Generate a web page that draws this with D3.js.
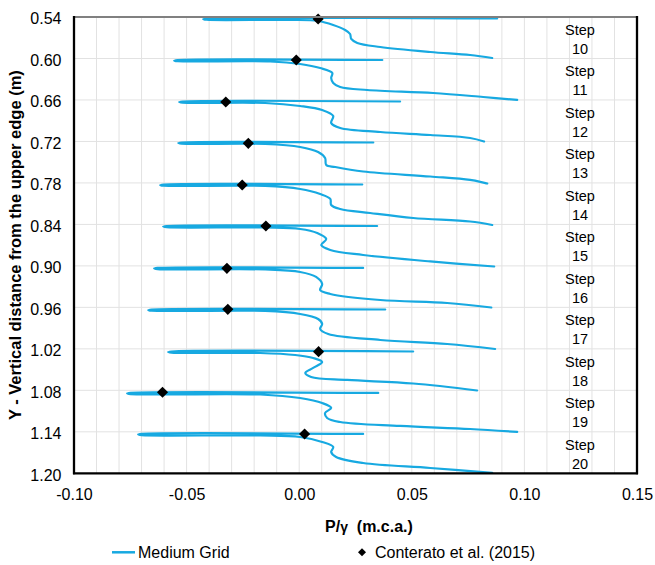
<!DOCTYPE html>
<html>
<head>
<meta charset="utf-8">
<script src="https://cdn.jsdelivr.net/npm/d3@7"></script>
<style>
  body { margin: 0; background: #fff; }
  text { font-family: "Liberation Sans", Arial, sans-serif; fill: #000; }
</style>
</head>
<body>
<svg id="chart" width="655" height="565"></svg>
<script>
// axis ticks
var xTicks = [-0.10, -0.05, 0.00, 0.05, 0.10, 0.15];
var yTicks = [0.54, 0.60, 0.66, 0.72, 0.78, 0.84, 0.90, 0.96, 1.02, 1.08, 1.14, 1.20];

// step numbers, one per 0.06 m band
var steps = [10, 11, 12, 13, 14, 15, 16, 17, 18, 19, 20];

// Medium Grid profiles [P/gamma, Y], one per step
var grid10 = [[0.0879,0.5422],[-0.0411,0.5422],[-0.0426,0.5431],[-0.0411,0.5440],[-0.0040,0.5442],[0.0084,0.5458],[0.0151,0.5516],[0.0204,0.5588],[0.0226,0.5646],[0.0231,0.5718],[0.0258,0.5776],[0.0360,0.5834],[0.0582,0.5906],[0.0759,0.5950],[0.0857,0.5993]];
var grid11 = [[0.0369,0.6022],[-0.0540,0.6022],[-0.0555,0.6031],[-0.0540,0.6040],[-0.0129,0.6044],[0.0004,0.6080],[0.0093,0.6138],[0.0147,0.6210],[0.0142,0.6282],[0.0151,0.6355],[0.0182,0.6412],[0.0302,0.6456],[0.0595,0.6499],[0.0817,0.6557],[0.0968,0.6600]];
var grid12 = [[0.0448,0.6622],[-0.0518,0.6622],[-0.0533,0.6631],[-0.0518,0.6640],[-0.0151,0.6644],[0.0004,0.6687],[0.0102,0.6745],[0.0151,0.6832],[0.0142,0.6933],[0.0182,0.7005],[0.0360,0.7063],[0.0582,0.7107],[0.0759,0.7150],[0.0821,0.7201]];
var grid13 = [[0.0329,0.7215],[-0.0522,0.7215],[-0.0537,0.7224],[-0.0522,0.7233],[-0.0151,0.7237],[0.0004,0.7280],[0.0084,0.7353],[0.0115,0.7439],[0.0120,0.7541],[0.0160,0.7570],[0.0284,0.7635],[0.0582,0.7707],[0.0759,0.7757],[0.0835,0.7808]];
var grid14 = [[0.0280,0.7823],[-0.0602,0.7823],[-0.0617,0.7832],[-0.0602,0.7841],[-0.0151,0.7844],[0.0004,0.7888],[0.0093,0.7960],[0.0138,0.8032],[0.0142,0.8119],[0.0182,0.8177],[0.0315,0.8235],[0.0506,0.8307],[0.0759,0.8358],[0.0857,0.8408]];
var grid15 = [[0.0346,0.8423],[-0.0589,0.8423],[-0.0604,0.8432],[-0.0589,0.8441],[-0.0151,0.8445],[0.0004,0.8466],[0.0080,0.8524],[0.0120,0.8611],[0.0098,0.8698],[0.0138,0.8770],[0.0284,0.8842],[0.0582,0.8936],[0.0866,0.9009]];
var grid16 = [[0.0284,0.9030],[-0.0629,0.9030],[-0.0644,0.9039],[-0.0629,0.9048],[-0.0151,0.9052],[0.0004,0.9088],[0.0075,0.9160],[0.0102,0.9262],[0.0093,0.9349],[0.0138,0.9406],[0.0360,0.9493],[0.0657,0.9537],[0.0853,0.9602]];
var grid17 = [[0.0382,0.9631],[-0.0655,0.9631],[-0.0670,0.9640],[-0.0655,0.9649],[-0.0151,0.9652],[0.0004,0.9696],[0.0084,0.9768],[0.0102,0.9840],[0.0093,0.9913],[0.0129,0.9985],[0.0360,1.0072],[0.0657,1.0130],[0.0870,1.0202]];
var grid18 = [[0.0506,1.0238],[-0.0567,1.0238],[-0.0582,1.0247],[-0.0567,1.0256],[-0.0173,1.0260],[-0.0018,1.0289],[0.0062,1.0332],[0.0102,1.0390],[0.0062,1.0476],[0.0027,1.0549],[0.0053,1.0607],[0.0213,1.0650],[0.0506,1.0701],[0.0790,1.0802]];
var grid19 = [[0.0351,1.0838],[-0.0749,1.0838],[-0.0764,1.0847],[-0.0749,1.0856],[-0.0173,1.0860],[0.0004,1.0911],[0.0102,1.0983],[0.0142,1.1055],[0.0115,1.1127],[0.0124,1.1200],[0.0182,1.1258],[0.0448,1.1315],[0.0759,1.1359],[0.0968,1.1402]];
var grid20 = [[0.0284,1.1431],[-0.0700,1.1431],[-0.0715,1.1440],[-0.0700,1.1449],[-0.0173,1.1453],[0.0004,1.1475],[0.0102,1.1547],[0.0151,1.1619],[0.0142,1.1692],[0.0164,1.1764],[0.0284,1.1851],[0.0582,1.1923],[0.0857,1.1995]];
var mediumGrid = [grid10, grid11, grid12, grid13, grid14, grid15, grid16, grid17, grid18, grid19, grid20];

// Conterato et al. (2015)
var conteratoX = [0.0084, -0.0013, -0.0326, -0.0226, -0.0253, -0.0148, -0.0321, -0.0317, 0.0086, -0.0607, 0.0024];
var conteratoY = [0.5429, 0.6022, 0.6629, 0.7227, 0.7830, 0.8423, 0.9035, 0.9628, 1.0241, 1.0828, 1.1431];

var blue = "#17a9e1";

var svg = d3.select("#chart");
svg.append("rect").attr("width", 655).attr("height", 565).attr("fill", "#fff");

var x = d3.scaleLinear().domain([-0.10, 0.15]).range([74, 637]);
var y = d3.scaleLinear().domain([0.54, 1.20]).range([17, 473.3]);

// grid
var grid = svg.append("g").attr("class", "grid");
grid.selectAll("line.v")
    .data(x.ticks(25).filter(function(d, i, a) { return i > 0 && i < a.length - 1; }))
    .enter().append("line")
    .attr("x1", function(d) { return x(d); })
    .attr("x2", function(d) { return x(d); })
    .attr("y1", y(0.54))
    .attr("y2", y(1.20))
    .attr("stroke", "#e2e2e2")
    .attr("stroke-width", 1);
grid.selectAll("line.h")
    .data(yTicks.slice(1, -1))
    .enter().append("line")
    .attr("x1", x(-0.10))
    .attr("x2", x(0.15))
    .attr("y1", function(d) { return y(d); })
    .attr("y2", function(d) { return y(d); })
    .attr("stroke", "#e2e2e2")
    .attr("stroke-width", 1);

// curves
var line = d3.line()
    .x(function(d) { return x(d[0]); })
    .y(function(d) { return y(d[1]); })
    .curve(d3.curveCatmullRom.alpha(0.5));

svg.selectAll("path.profile")
    .data(mediumGrid).enter().append("path")
    .attr("class", "profile")
    .attr("d", line)
    .attr("fill", "none")
    .attr("stroke", blue)
    .attr("stroke-width", 2.2)
    .attr("stroke-linejoin", "round")
    .attr("stroke-linecap", "round");

// diamonds
var diamond = d3.symbol().type(d3.symbolSquare).size(62);
svg.selectAll("path.conterato")
    .data(conteratoX).enter().append("path")
    .attr("class", "conterato")
    .attr("d", diamond)
    .attr("transform", function(d, i) {
        return "translate(" + x(d) + "," + y(conteratoY[i]) + ") rotate(45)";
    })
    .attr("fill", "#000");

// frame
svg.append("line").attr("x1", x(-0.10)).attr("x2", x(0.15)).attr("y1", y(0.54)).attr("y2", y(0.54))
    .attr("stroke", "#808080").attr("stroke-width", 2);
svg.append("line").attr("x1", x(0.15)).attr("x2", x(0.15)).attr("y1", y(0.54) - 1).attr("y2", y(1.20) + 1)
    .attr("stroke", "#000").attr("stroke-width", 2.3);
svg.append("line").attr("x1", x(-0.10)).attr("x2", x(-0.10)).attr("y1", y(0.54) - 1).attr("y2", y(1.20) + 1)
    .attr("stroke", "#000").attr("stroke-width", 2.3);
svg.append("line").attr("x1", x(-0.10) - 1).attr("x2", x(0.15) + 1).attr("y1", y(1.20)).attr("y2", y(1.20))
    .attr("stroke", "#000").attr("stroke-width", 2.3);

// axes
var yAxis = svg.append("g")
    .attr("transform", "translate(" + x(-0.10) + ",0)")
    .call(d3.axisLeft(y).tickValues(yTicks).tickSize(0).tickPadding(12.5)
        .tickFormat(function(d) { return d.toFixed(2); }));
yAxis.select(".domain").remove();
yAxis.selectAll("text").attr("font-size", 16).attr("dy", "0.42em")
    .attr("font-family", "Liberation Sans, Arial, sans-serif");

var xAxis = svg.append("g")
    .attr("transform", "translate(0," + y(1.20) + ")")
    .call(d3.axisBottom(x).tickValues(xTicks).tickSize(0).tickPadding(15)
        .tickFormat(function(d) { return d.toFixed(2); }));
xAxis.select(".domain").remove();
xAxis.selectAll("text").attr("font-size", 16)
    .attr("font-family", "Liberation Sans, Arial, sans-serif");

// step labels
var labels = svg.selectAll("g.step")
    .data(steps).enter().append("g")
    .attr("class", "step")
    .attr("transform", function(d, i) { return "translate(580," + y(yTicks[i]) + ")"; });
labels.append("text").attr("y", 18).attr("text-anchor", "middle").attr("font-size", 14.5).text("Step");
labels.append("text").attr("y", 37).attr("text-anchor", "middle").attr("font-size", 14.5)
    .text(function(d) { return d; });

// axis titles
svg.append("text")
    .attr("transform", "translate(20.5," + y(0.87) + ") rotate(-90)")
    .attr("text-anchor", "middle")
    .attr("font-size", 16.5)
    .attr("font-weight", "bold")
    .text("Y - Vertical distance from the upper edge (m)");

var xt = svg.append("text")
    .attr("x", 325).attr("y", 531.5)
    .attr("font-size", 16)
    .attr("font-weight", "bold")
    .style("white-space", "pre");
xt.append("tspan").text("P/");
xt.append("tspan").attr("font-size", 14).text("γ");
xt.append("tspan").text("  (m.c.a.)");

// legend
var legend = svg.append("g");
legend.append("line").attr("x1", 112).attr("x2", 135).attr("y1", 552.3).attr("y2", 552.3)
    .attr("stroke", blue).attr("stroke-width", 2.5);
legend.append("text").attr("x", 138).attr("y", 558).attr("font-size", 16).text("Medium Grid");
legend.append("path")
    .attr("d", d3.symbol().type(d3.symbolSquare).size(32))
    .attr("transform", "translate(362,552.3) rotate(45)")
    .attr("fill", "#000");
legend.append("text").attr("x", 375).attr("y", 558).attr("font-size", 16).text("Conterato et al. (2015)");
</script>
</body>
</html>
